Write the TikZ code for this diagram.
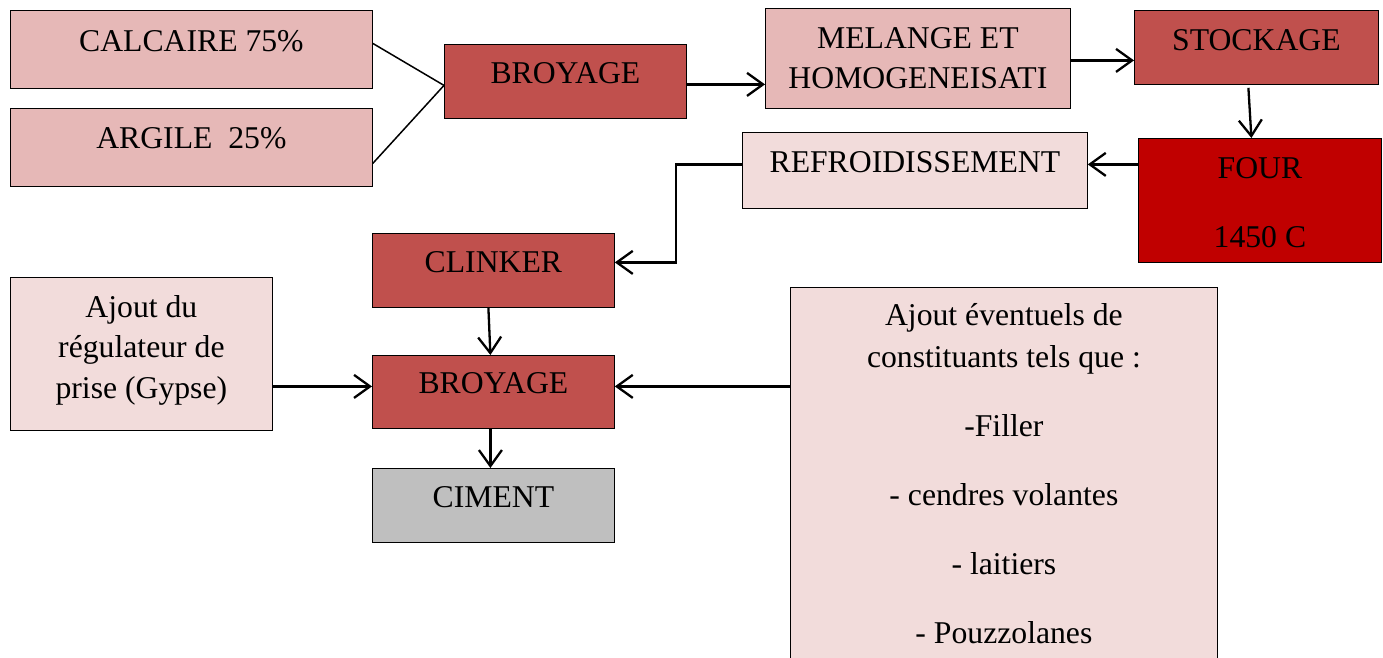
\documentclass[tikz,border=0pt]{standalone}
\usepackage{fontspec}
\setmainfont{Liberation Serif}
\usetikzlibrary{arrows.meta}
\definecolor{pinkA}{HTML}{E6B8B7}
\definecolor{redB}{HTML}{C0504D}
\definecolor{redF}{HTML}{C00000}
\definecolor{pinkL}{HTML}{F2DCDB}
\definecolor{greyC}{HTML}{BFBFBF}
\newcommand\bt[4]{\parbox[c][#2pt][t]{#1pt}{\centering\rule{0pt}{#3pt}#4\par}}
\begin{document}
\begin{tikzpicture}[x=1pt,y=-1pt,
  bx/.style={draw=black, line width=0.8pt, inner sep=0pt, anchor=north west,
    font=\fontsize{31.7}{40.5}\selectfont},
  arr/.style={line width=2.3pt, -{Straight Barb[length=16pt,width=23pt,line width=2.3pt]}},
  ln/.style={line width=1.5pt}]
\useasboundingbox (0,0) rectangle (1383,657);
\clip (0,0) rectangle (1383,657);
\fill[white] (0,0) rectangle (1383,657);

\node[bx, fill=pinkA] (calc) at (10,10) {\bt{362}{78}{41}{CALCAIRE 75\%}};
\node[bx, fill=pinkA] (arg) at (10,108) {\bt{362}{78}{40}{ARGILE\ \ 25\%}};
\node[bx, fill=redB] (broy1) at (444,44) {\bt{242}{74}{39}{BROYAGE}};
\node[bx, fill=pinkA] (mel) at (765,8) {\bt{305}{100}{40}{MELANGE ET\\HOMOGENEISATI}};
\node[bx, fill=redB] (stock) at (1134,10) {\bt{244}{74}{40}{STOCKAGE}};
\node[bx, fill=redF] (four) at (1138,138) {\bt{243}{124}{40}{FOUR\\[28.5pt]1450 C}};
\node[bx, fill=pinkL] (refr) at (742,132) {\bt{345}{76}{40}{REFROIDISSEMENT}};
\node[bx, fill=redB] (clink) at (372,233) {\bt{242}{74}{39}{CLINKER}};
\node[bx, fill=redB] (broy2) at (372,355) {\bt{242}{73}{38}{BROYAGE}};
\node[bx, fill=greyC] (cim) at (372,468) {\bt{242}{74}{39}{CIMENT}};
\node[bx, fill=pinkL] (gyps) at (10,277) {\bt{262}{153}{40}{Ajout du\\régulateur de\\prise (Gypse)}};
\node[bx, fill=pinkL] (ajout) at (790,287) {\bt{427}{420}{38}{Ajout éventuels de\\[1.5pt]constituants tels que :\\[28.5pt]-Filler\\[28.5pt]- cendres volantes\\[28.5pt]- laitiers\\[28.5pt]- Pouzzolanes}};

\draw[ln] ([yshift=6pt]calc.east) -- ([yshift=-4pt]broy1.west);
\draw[ln] ([yshift=-16pt]arg.east) -- ([yshift=-4pt]broy1.west);
\draw[arr] ([yshift=-3pt]broy1.east) -- ([yshift=-26pt]mel.west);
\draw[arr] ([yshift=-2pt]mel.east) -- ([yshift=-13pt]stock.west);
\draw[arr] ([xshift=-8pt,yshift=-3pt]stock.south) -- ([xshift=-8.5pt]four.north);
\draw[arr] ([yshift=36pt]four.west) -- ([yshift=6pt]refr.east);
\draw[arr] ([yshift=6pt]refr.west) -- ++(-66,0) |- ([yshift=8pt]clink.east);
\draw[arr] ([xshift=-5pt]clink.south) -- ([xshift=-3pt]broy2.north);
\draw[arr] ([xshift=-3pt]broy2.south) -- ([xshift=-3pt]cim.north);
\draw[arr] ([yshift=-32.5pt]gyps.east) -- ([yshift=5.5pt]broy2.west);
\draw[arr] ([yshift=111pt]ajout.west) -- ([yshift=5.5pt]broy2.east);
\end{tikzpicture}
\end{document}
